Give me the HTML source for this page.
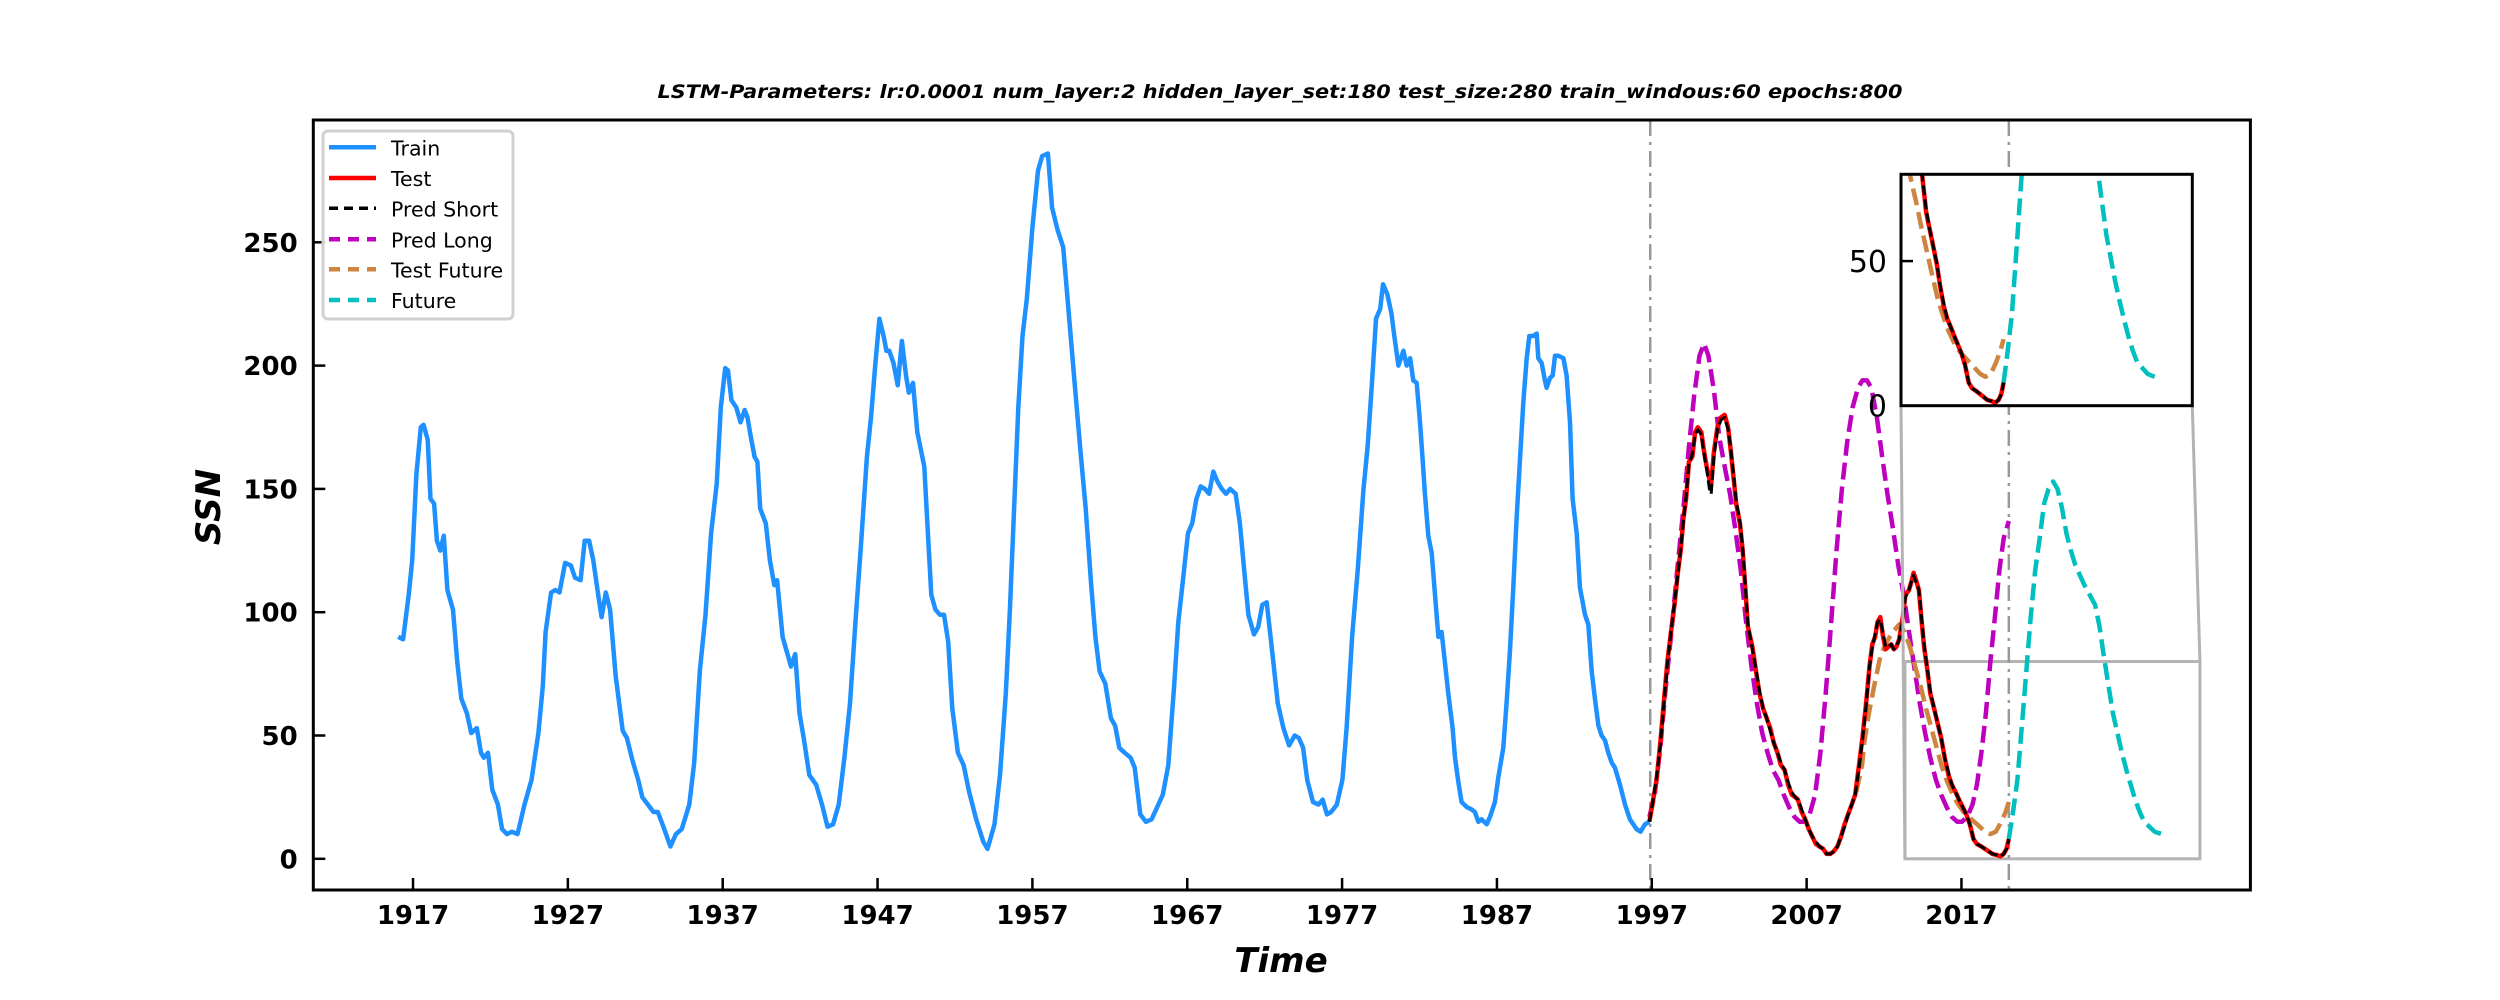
<!DOCTYPE html>
<html><head><meta charset="utf-8"><style>
html,body{margin:0;padding:0;background:#fff;}
svg{display:block;font-family:"DejaVu Sans","Liberation Sans",sans-serif;}
</style></head><body>
<svg id="chart" width="2500" height="1000" viewBox="0 0 2500 1000" xmlns="http://www.w3.org/2000/svg">
<rect x="0" y="0" width="2500" height="1000" fill="#fff"/>
<text x="1280" y="98" text-anchor="middle" font-size="19" font-weight="bold" font-style="italic" textLength="1245" lengthAdjust="spacingAndGlyphs">LSTM-Parameters: lr:0.0001 num_layer:2 hidden_layer_set:180 test_size:280 train_windous:60 epochs:800</text>
<defs><clipPath id="mainClip"><rect x="313" y="120" width="1938" height="770"/></clipPath>
<clipPath id="insetClip"><rect x="1901" y="174.3" width="291.3" height="231.4"/></clipPath></defs>
<g id="plot" clip-path="url(#mainClip)"></g>
<g id="axes"></g>
<g id="inset"></g>
<text x="1281" y="972" text-anchor="middle" font-size="34" font-weight="bold" font-style="italic">Time</text>
<text transform="translate(220,507) rotate(-90)" text-anchor="middle" font-size="34" font-weight="bold" font-style="italic">SSN</text>
<g id="legend"></g>
</svg>
<script>
const trainYears=[1916.04,1916.36,1916.72,1916.95,1917.22,1917.50,1917.68,1917.95,1918.13,1918.36,1918.54,1918.76,1918.99,1919.22,1919.58,1919.85,1920.12,1920.48,1920.76,1921.12,1921.39,1921.57,1921.84,1922.12,1922.48,1922.75,1923.07,1923.38,1923.75,1924.20,1924.65,1925.10,1925.38,1925.56,1925.92,1926.19,1926.46,1926.82,1927.19,1927.46,1927.82,1928.09,1928.37,1928.64,1928.96,1929.18,1929.45,1929.73,1930.09,1930.54,1930.81,1931.17,1931.54,1931.81,1932.17,1932.53,1932.81,1933.17,1933.62,1933.98,1934.35,1934.84,1935.16,1935.52,1935.89,1936.25,1936.61,1936.88,1937.16,1937.34,1937.56,1937.88,1938.15,1938.42,1938.60,1938.79,1939.06,1939.24,1939.42,1939.78,1940.05,1940.33,1940.51,1940.87,1941.14,1941.41,1941.68,1941.96,1942.23,1942.59,1943.04,1943.41,1943.77,1944.13,1944.49,1944.86,1945.22,1945.58,1945.94,1946.31,1946.58,1946.85,1947.12,1947.39,1947.57,1947.75,1948.03,1948.30,1948.57,1948.84,1949.02,1949.29,1949.57,1950.02,1950.25,1950.47,1950.74,1951.02,1951.29,1951.56,1951.83,1952.19,1952.56,1952.92,1953.37,1953.82,1954.10,1954.55,1954.91,1955.28,1955.55,1955.82,1956.09,1956.36,1956.64,1957.00,1957.36,1957.63,1958.00,1958.27,1958.63,1958.99,1959.35,1959.71,1960.08,1960.44,1960.80,1961.07,1961.34,1961.71,1962.07,1962.34,1962.61,1962.97,1963.34,1963.61,1963.97,1964.33,1964.70,1965.06,1965.42,1965.78,1966.15,1966.42,1966.69,1967.05,1967.32,1967.59,1967.87,1968.14,1968.41,1968.68,1968.95,1969.23,1969.50,1969.77,1970.13,1970.40,1970.68,1970.95,1971.31,1971.58,1971.85,1972.13,1972.49,1972.85,1973.21,1973.58,1973.94,1974.21,1974.48,1974.75,1975.12,1975.48,1975.75,1976.02,1976.29,1976.66,1977.02,1977.29,1977.65,1978.01,1978.38,1978.65,1978.92,1979.19,1979.46,1979.64,1979.92,1980.19,1980.37,1980.64,1980.96,1981.17,1981.39,1981.60,1981.82,1982.03,1982.20,1982.35,1982.57,1982.79,1983.00,1983.22,1983.43,1983.65,1983.86,1984.14,1984.29,1984.51,1984.72,1985.05,1985.37,1985.58,1985.80,1986.01,1986.34,1986.55,1986.87,1987.09,1987.41,1987.63,1987.84,1988.06,1988.27,1988.49,1988.70,1988.92,1989.09,1989.35,1989.57,1989.67,1989.89,1990.10,1990.21,1990.43,1990.60,1990.75,1990.97,1991.29,1991.50,1991.72,1991.89,1992.15,1992.36,1992.69,1992.90,1993.12,1993.33,1993.55,1993.76,1993.98,1994.19,1994.41,1994.62,1994.95,1995.27,1995.59,1995.81,1996.02,1996.28,1996.56,1996.84];
const trainValues=[90,89,107,121,156,175,176,170,146,144,129,125,131,109,101,80,65,59,51,53,43,41,43,28,22,12,10,11,10,22,32,51,70,92,108,109,108,120,119,114,113,129,129,121,107,98,108,101,74,52,49,40,32,25,22,19,19,13,5,10,12,22,39,76,99,132,152,183,199,198,186,183,177,182,179,172,163,161,142,136,121,111,113,90,84,78,83,59,49,34,30,22,13,14,22,41,63,97,128,163,179,200,219,212,206,206,201,192,210,196,189,193,173,159,132,107,101,99,99,88,61,43,38,27,16,7,4,14,34,67,101,142,183,212,227,256,279,285,286,264,255,248,221,194,167,142,111,90,76,71,57,54,45,43,41,37,18,15,16,21,26,38,70,96,111,132,136,146,151,150,148,157,153,150,148,150,148,136,117,99,91,94,103,104,84,63,53,46,50,49,45,32,23,22,24,18,19,22,32,53,90,117,150,167,192,219,223,233,229,221,212,200,206,200,203,194,193,177,162,148,131,124,107,90,92,79,67,53,41,31,23,21,20,19,15,16,14,17,23,33,45,64,84,110,138,162,185,203,212,212,213,203,201,194,191,195,196,204,204,203,196,177,146,132,110,99,95,76,65,54,50,48,43,39,37,30,22,16,14,12,11,14,15];
const testYears=[1996.85,1997.09,1997.31,1997.55,1997.77,1998.01,1998.24,1998.47,1998.70,1998.87,1999.04,1999.22,1999.40,1999.62,1999.80,1999.98,2000.20,2000.38,2000.55,2000.72,2000.84,2001.01,2001.24,2001.47,2001.71,2001.93,2002.11,2002.29,2002.45,2002.69,2002.87,2003.03,2003.21,2003.50,2003.73,2003.96,2004.19,2004.42,2004.65,2004.88,2005.12,2005.34,2005.58,2005.81,2006.04,2006.27,2006.44,2006.68,2006.91,2007.14,2007.37,2007.60,2007.83,2008.07,2008.29,2008.53,2008.75,2008.99,2009.22,2009.45,2009.68,2009.91,2010.14,2010.38,2010.60,2010.84,2011.06,2011.24,2011.42,2011.58,2011.76,2011.94,2012.11,2012.28,2012.46,2012.63,2012.80,2012.98,2013.21,2013.38,2013.61,2013.79,2013.91,2014.07,2014.25,2014.43,2014.59,2014.77,2014.99,2015.23,2015.46,2015.69,2015.92,2016.16,2016.38,2016.62,2016.84,2017.08,2017.31,2017.54,2017.78,2018.00,2018.29,2018.52,2018.76,2018.99,2019.27,2019.51,2019.73,2019.91,2020.06];
const testValues=[15,24,32,47,63,80,92,103,117,125,138,146,161,163,173,175,173,165,159,154,152,165,175,179,180,175,165,154,144,136,125,111,94,86,76,67,61,57,53,47,43,38,36,30,26,25,24,19,16,12,9,6,5,4,2,2,3,5,9,14,18,22,26,38,49,63,78,87,90,96,98,90,85,86,87,85,86,89,98,107,109,113,116,113,109,96,86,78,67,61,55,49,41,34,30,27,24,21,18,14,8,6,5,4,3,2,1.6,1,2,4,8];
const predShortValues=[15,24,33,46,62,79,92,104,116,126,137,147,160,164,172,174,172,164,158,150,148,163,174,178,179,174,166,155,145,137,126,112,95,85,77,68,61,57,52,47,43,39,36,31,27,25,24,20,16,12,9,7,5,4,2,2,3,5,9,13,18,22,26,37,48,62,78,86,91,96,97,91,86,86,87,85,86,89,97,106,109,113,115,112,109,97,87,78,68,61,55,49,41,35,30,27,24,21,18,14,8,6,5,4,3,2,1.6,1,2,4,8];
const predLongYears=[1996.85,1997.19,1997.55,1997.89,1998.30,1998.64,1999.04,1999.40,1999.74,2000.08,2000.38,2000.66,2001.01,2001.36,2001.71,2002.05,2002.39,2002.75,2003.09,2003.44,2003.79,2004.13,2004.48,2004.82,2005.18,2005.52,2005.86,2006.22,2006.56,2006.91,2007.20,2007.55,2007.89,2008.23,2008.59,2008.93,2009.28,2009.62,2009.97,2010.32,2010.60,2010.90,2011.18,2011.54,2011.88,2012.22,2012.57,2012.92,2013.27,2013.61,2013.95,2014.31,2014.65,2014.99,2015.35,2015.69,2016.04,2016.38,2016.74,2017.02,2017.37,2017.71,2018.00,2018.29,2018.58,2018.87,2019.16,2019.45,2019.73,2020.06];
const predLongValues=[17,26,45,69,94,117,142,167,188,204,209,204,190,171,159,148,134,117,96,78,63,51,43,36,32,26,21,17,15,15,18,26,43,67,96,125,150,169,183,191,194,194,191,179,163,148,134,119,107,92,78,63,51,41,32,26,21,17,15,15,17,22,30,43,59,80,98,117,130,137];
const testFutureYears=[2010.20,2010.58,2010.72,2011.02,2011.36,2011.76,2012.17,2012.57,2012.98,2013.33,2013.67,2014.01,2014.36,2014.71,2015.06,2015.40,2015.75,2016.10,2016.44,2016.80,2017.14,2017.48,2017.83,2018.18,2018.53,2018.87,2019.22,2019.57,2019.85,2020.06];
const testFutureValues=[27,38,47,59,70,82,88,92,95,92,86,78,70,61,53,45,37,31,26,22,19,17,15,13,11,10,11,15,19,23];
const futureYears=[2020.06,2020.31,2020.61,2020.89,2021.19,2021.47,2021.76,2022.05,2022.34,2022.62,2022.92,2023.20,2023.50,2023.78,2024.07,2024.36,2024.65,2024.94,2025.28,2025.63,2025.92,2026.20,2026.50,2026.78,2027.07,2027.36,2027.65,2027.93,2028.22,2028.51,2028.80,2029.14,2029.48,2029.94];
const futureValues=[8,18,32,53,76,98,117,130,144,150,153,150,142,132,125,119,115,111,107,103,94,82,70,59,51,43,36,30,24,19,15,13,11,10];
const xTickYears=[1917,1927,1937,1947,1957,1967,1977,1987,1997,2007,2017];
const xTickLabels=['1917','1927','1937','1947','1957','1967','1977','1987','1997','2007','2017'];
const yTickValues=[0,50,100,150,200,250];
const yTickLabels=['0','50','100','150','200','250'];
const splitYears=[1996.9,2020.06];
const insetXRange=[2013.35,2032.4];
const insetYRange=[0,80];
const insetTickValues=[0,50];
const insetTickLabels=['0','50'];

const NS='http://www.w3.org/2000/svg';
const AX={l:313.3,r:2250.4,t:120,b:890};
const XMIN=1910.56,XMAX=2035.66,YMIN=-12.65,YMAX=299.6;
function X(v){return AX.l+(v-XMIN)/(XMAX-XMIN)*(AX.r-AX.l);}
function Y(v){return AX.b-(v-YMIN)/(YMAX-YMIN)*(AX.b-AX.t);}
const IN={l:1901,r:2192.3,t:174.3,b:405.7};
function IX(v){return IN.l+(v-insetXRange[0])/(insetXRange[1]-insetXRange[0])*(IN.r-IN.l);}
function IY(v){return IN.b-(v-insetYRange[0])/(insetYRange[1]-insetYRange[0])*(IN.b-IN.t);}
function mk(tag,attrs,parent){const e=document.createElementNS(NS,tag);for(const k in attrs)e.setAttribute(k,attrs[k]);parent.appendChild(e);return e;}
function pts(xs,ys,fx,fy){return xs.map((x,i)=>fx(x).toFixed(1)+','+fy(ys[i]).toFixed(1)).join(' ');}

const series=[
 {name:'train-line',xs:trainYears,ys:trainValues,color:'#1e90ff',w:4.5,dash:null,inset:false},
 {name:'pred-long-line',xs:predLongYears,ys:predLongValues,color:'#bf00bf',w:4.5,dash:'17 7',inset:false},
 {name:'test-future-line',xs:testFutureYears,ys:testFutureValues,color:'#cd853f',w:4.5,dash:'17 7',inset:true},
 {name:'future-line',xs:futureYears,ys:futureValues,color:'#00bfbf',w:4.5,dash:'17 7',inset:true},
 {name:'test-line',xs:testYears,ys:testValues,color:'#ff0000',w:4.5,dash:null,inset:true},
 {name:'pred-short-line',xs:testYears,ys:predShortValues,color:'#000000',w:3,dash:'10 4',inset:true}
];
const plot=document.getElementById('plot');
const zr=mk('rect',{x:X(insetXRange[0]),y:Y(insetYRange[1]),width:X(insetXRange[1])-X(insetXRange[0]),height:Y(insetYRange[0])-Y(insetYRange[1]),fill:'none',stroke:'#b3b3b3','stroke-width':3},plot);


splitYears.forEach((yr,i)=>{
 const l=mk('line',{x1:X(yr),x2:X(yr),y1:AX.t,y2:AX.b,stroke:'#999','stroke-width':2.5,'stroke-dasharray':'16 6 3 6'},plot);
 
 
});
series.forEach(s=>{
 const p=mk('polyline',{points:pts(s.xs,s.ys,X,Y),fill:'none',stroke:s.color,'stroke-width':s.w,'stroke-linejoin':'round'},plot);
 if(s.dash)p.setAttribute('stroke-dasharray',s.dash);
 
 
});
const c1=mk('line',{x1:IN.l,y1:IN.b,x2:X(insetXRange[0]),y2:Y(insetYRange[0]),stroke:'#b3b3b3','stroke-width':3},plot);


const c2=mk('line',{x1:IN.r,y1:IN.b,x2:X(insetXRange[1]),y2:Y(insetYRange[1]),stroke:'#b3b3b3','stroke-width':3},plot);



const axes=document.getElementById('axes');
const frame=mk('rect',{x:AX.l,y:AX.t,width:AX.r-AX.l,height:AX.b-AX.t,fill:'none',stroke:'#000','stroke-width':3},axes);


xTickYears.forEach((yr,i)=>{
 const t=mk('line',{x1:X(yr),x2:X(yr),y1:AX.b,y2:AX.b-12,stroke:'#000','stroke-width':2.5},axes);
 
 
 const tx=mk('text',{x:X(yr),y:924,'text-anchor':'middle','font-size':26,'font-weight':'bold'},axes);
 tx.textContent=xTickLabels[i];
 
 
});
yTickValues.forEach((v,i)=>{
 const t=mk('line',{x1:AX.l,x2:AX.l+12,y1:Y(v),y2:Y(v),stroke:'#000','stroke-width':2.5},axes);
 
 
 const tx=mk('text',{x:297.7,y:Y(v)+9.5,'text-anchor':'end','font-size':26,'font-weight':'bold'},axes);
 tx.textContent=yTickLabels[i];
 
 
});

const inset=document.getElementById('inset');
const ibg=mk('rect',{x:IN.l,y:IN.t,width:IN.r-IN.l,height:IN.b-IN.t,fill:'#fff'},inset);


const ig=mk('g',{'clip-path':'url(#insetClip)'},inset);
series.filter(s=>s.inset).forEach(s=>{
 const p=mk('polyline',{points:pts(s.xs,s.ys,IX,IY),fill:'none',stroke:s.color,'stroke-width':s.w,'stroke-linejoin':'round'},ig);
 if(s.dash)p.setAttribute('stroke-dasharray',s.dash);
 
 
});
const ifr=mk('rect',{x:IN.l,y:IN.t,width:IN.r-IN.l,height:IN.b-IN.t,fill:'none',stroke:'#000','stroke-width':3},inset);


insetTickValues.forEach((v,i)=>{
 if(v>insetYRange[0]){
  const t=mk('line',{x1:IN.l,x2:IN.l+12,y1:IY(v),y2:IY(v),stroke:'#000','stroke-width':2.5},inset);
  
  
 }
 const tx=mk('text',{x:IN.l-14,y:IY(v)+11,'text-anchor':'end','font-size':30},inset);
 tx.textContent=insetTickLabels[i];
 
 
});

const lg=document.getElementById('legend');
const lbox=mk('rect',{x:323,y:131,width:190,height:188,rx:5,fill:'#fff','fill-opacity':0.8,stroke:'#d0d0d0','stroke-width':3},lg);


const legendLabels=['Train','Test','Pred Short','Pred Long','Test Future','Future'];
const legendStyles=[['#1e90ff',null,4.5],['#ff0000',null,4.5],['#000000','9 6',3.5],['#bf00bf','11 8',4.5],['#cd853f','11 8',4.5],['#00bfbf','11 8',4.5]];
const legendY=[147.3,178,208.3,239.3,269.3,300];
legendLabels.forEach((lab,i)=>{
 const g=mk('g',{},lg);
 
 
 const st=legendStyles[i];
 const l=mk('line',{x1:329,x2:376,y1:legendY[i],y2:legendY[i],stroke:st[0],'stroke-width':st[2]},g);
 if(st[1])l.setAttribute('stroke-dasharray',st[1]);
 const tx=mk('text',{x:391,y:legendY[i]+8,'font-size':20.5},g);
 tx.textContent=lab;
});
</script>
</body></html>
